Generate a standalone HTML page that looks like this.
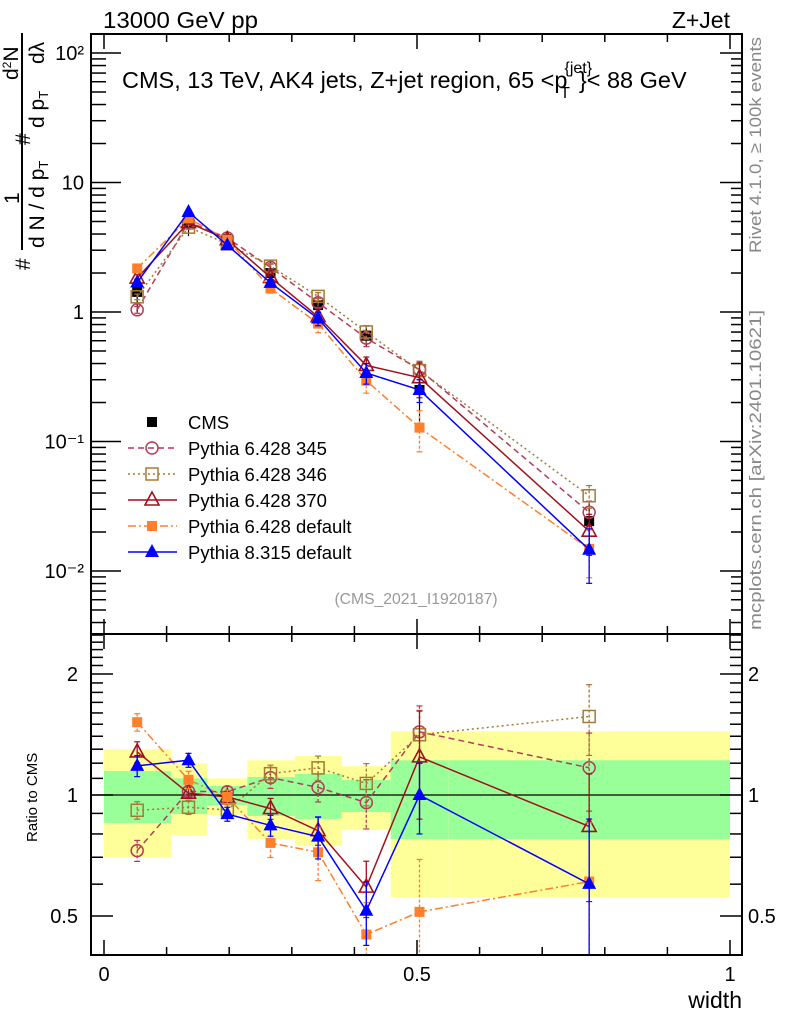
<!DOCTYPE html>
<html><head><meta charset="utf-8">
<style>
html,body{margin:0;padding:0;background:#fff;}
svg{display:block;font-family:"Liberation Sans",sans-serif;}
</style></head>
<body>
<svg id="chart" width="786" height="1024" viewBox="0 0 786 1024" xmlns="http://www.w3.org/2000/svg">
  <text x="103" y="28" font-size="23" textLength="155" lengthAdjust="spacingAndGlyphs">13000 GeV pp</text>
  <text x="730" y="28" font-size="23" text-anchor="end">Z+Jet</text>
  <text x="122" y="88" font-size="23.5">CMS, 13 TeV, AK4 jets, Z+jet region, 65 &lt;p<tspan font-size="16" dy="-15" dx="-3">{jet}</tspan><tspan font-size="16" dy="25" dx="-32">T</tspan><tspan dy="-10" dx="9">}&lt; 88 GeV</tspan></text>
  <text x="416" y="604" font-size="15.7" fill="#999" text-anchor="middle">(CMS_2021_I1920187)</text>
  <text transform="translate(761,253) rotate(-90)" font-size="17" fill="#888" textLength="216" lengthAdjust="spacingAndGlyphs">Rivet 4.1.0, ≥ 100k events</text>
  <text transform="translate(761,630) rotate(-90)" font-size="17" fill="#888" textLength="320" lengthAdjust="spacingAndGlyphs">mcplots.cern.ch [arXiv:2401.10621]</text>
  <g font-size="21">
    <line x1="22" y1="33" x2="22" y2="250" stroke="#000" stroke-width="2"/>
    <text transform="translate(30,270) rotate(-90)">#</text>
    <text transform="translate(19,204) rotate(-90)">1</text>
    <text transform="translate(44,248) rotate(-90)">d N / d p<tspan font-size="13" dy="4">T</tspan></text>
    <text transform="translate(30,145) rotate(-90)">#</text>
    <text transform="translate(18,80) rotate(-90)">d<tspan font-size="12" dy="-7">2</tspan><tspan dy="7">N</tspan></text>
    <text transform="translate(44,128) rotate(-90)">d p<tspan font-size="13" dy="4">T</tspan></text>
    <text transform="translate(44,64) rotate(-90)">dλ</text>
  </g>
  <text transform="translate(37,842) rotate(-90)" font-size="15">Ratio to CMS</text>
  <text x="742" y="1008" font-size="23" text-anchor="end">width</text>
  <g id="main"></g>
  <g id="ratio"></g>
</svg>
<script>
const binEdges = [0, 0.107, 0.165, 0.229, 0.305, 0.38, 0.458, 0.55, 1.0];
const binCenters = [0.053, 0.135, 0.197, 0.266, 0.342, 0.419, 0.504, 0.775];
const cmsValues = [1.43, 4.85, 3.66, 2.0, 1.13, 0.656, 0.25, 0.0243];
const cmsTotalUp = [1.30, 1.20, 1.10, 1.22, 1.25, 1.18, 1.44, 1.44];
const cmsTotalDown = [0.70, 0.795, 0.892, 0.777, 0.747, 0.818, 0.557, 0.557];
const cmsStatUp = [1.147, 1.10, 1.053, 1.109, 1.128, 1.09, 1.22, 1.22];
const cmsStatDown = [0.852, 0.897, 0.944, 0.887, 0.872, 0.907, 0.777, 0.777];
const p345Values = [1.04, 4.95, 3.73, 2.21, 1.18, 0.628, 0.359, 0.0284];
const p345Err = [0.06, 0.03, 0.03, 0.06, 0.08, 0.14, 0.16, 0.22];
const p346Values = [1.31, 4.52, 3.36, 2.26, 1.32, 0.701, 0.353, 0.0381];
const p346Err = [0.05, 0.04, 0.03, 0.05, 0.07, 0.12, 0.15, 0.2];
const p370Values = [1.83, 4.90, 3.62, 1.85, 0.921, 0.387, 0.311, 0.0203];
const p370Err = [0.06, 0.03, 0.03, 0.06, 0.08, 0.16, 0.3, 0.35];
const p6dValues = [2.17, 5.29, 3.62, 1.52, 0.814, 0.295, 0.128, 0.0148];
const p6dErr = [0.05, 0.05, 0.04, 0.08, 0.15, 0.2, 0.35, 0.4];
const p8Values = [1.69, 5.92, 3.28, 1.68, 0.89, 0.338, 0.25, 0.0146];
const p8Err = [0.06, 0.04, 0.04, 0.06, 0.12, 0.18, 0.2, 0.45];
const mainTickExps = [-2, -1, 0, 1, 2];
const mainTickLabels = ["10⁻²", "10⁻¹", "1", "10", "10²"];
const ratioTicks = [0.5, 1, 2];
const ratioTickLabels = ["0.5", "1", "2"];
const xTicks = [0, 0.5, 1];
const xTickLabels = ["0", "0.5", "1"];

const L = 91, R = 742, T = 34, MB = 634, RB = 955;
const xs = v => 104 + 626 * v;
const ym = v => 312 - 129.5 * Math.log10(v);
const yr = v => 795 - 121 * Math.log2(v);
const NS = "http://www.w3.org/2000/svg";
function mk(parent, tag, attrs, txt) {
  const e = document.createElementNS(NS, tag);
  for (const k in attrs) e.setAttribute(k, attrs[k]);
  if (txt !== undefined) e.textContent = txt;
  parent.appendChild(e);
  return e;
}
const main = document.getElementById('main');
const ratio = document.getElementById('ratio');
const svg = document.getElementById('chart');
const defs = mk(svg, 'defs', {});
const c1 = mk(defs, 'clipPath', {id: 'cm'}); mk(c1, 'rect', {x: L, y: T, width: R - L, height: MB - T});
const c2 = mk(defs, 'clipPath', {id: 'cr'}); mk(c2, 'rect', {x: L, y: MB, width: R - L, height: RB - MB});

const bands = mk(ratio, 'g', {'clip-path': 'url(#cr)'});
for (let i = 0; i < cmsValues.length; i++) {
  const x0 = xs(binEdges[i]), x1 = xs(binEdges[i + 1]);
  const yb = mk(bands, 'rect', {x: x0, y: yr(cmsTotalUp[i]), width: x1 - x0, height: yr(cmsTotalDown[i]) - yr(cmsTotalUp[i]), fill: '#ffff99'});
  
  
  const gb = mk(bands, 'rect', {x: x0, y: yr(cmsStatUp[i]), width: x1 - x0, height: yr(cmsStatDown[i]) - yr(cmsStatUp[i]), fill: '#99ff99'});
  
  
}
const unity = mk(ratio, 'line', {x1: L, x2: R, y1: yr(1), y2: yr(1), stroke: '#000', 'stroke-width': 1.2});



function marker(g, type, x, y, color, s) {
  s = s || 6;
  if (type === 'circle') return mk(g, 'circle', {cx: x, cy: y, r: s, fill: 'none', stroke: color, 'stroke-width': 1.5});
  if (type === 'osquare') return mk(g, 'rect', {x: x - s, y: y - s, width: 2 * s, height: 2 * s, fill: 'none', stroke: color, 'stroke-width': 1.5});
  if (type === 'fsquare') return mk(g, 'rect', {x: x - s + 1, y: y - s + 1, width: 2 * s - 2, height: 2 * s - 2, fill: color});
  if (type === 'otri') return mk(g, 'polygon', {points: `${x},${y - s - 2} ${x - s - 1},${y + s - 1} ${x + s + 1},${y + s - 1}`, fill: 'none', stroke: color, 'stroke-width': 1.6});
  if (type === 'ftri') return mk(g, 'polygon', {points: `${x},${y - s - 2} ${x - s - 1},${y + s - 1} ${x + s + 1},${y + s - 1}`, fill: color});
}
const series = [
  {name: 'Pythia 6.428 345', key: 'p345', vals: p345Values, err: p345Err, color: '#b23c5a', dash: '6,4', m: 'circle'},
  {name: 'Pythia 6.428 346', key: 'p346', vals: p346Values, err: p346Err, color: '#a57a35', dash: '2,3', m: 'osquare'},
  {name: 'Pythia 6.428 370', key: 'p370', vals: p370Values, err: p370Err, color: '#a0101e', dash: '', m: 'otri'},
  {name: 'Pythia 6.428 default', key: 'p6d', vals: p6dValues, err: p6dErr, color: '#ff7f2a', dash: '8,3,2,3', m: 'fsquare'},
  {name: 'Pythia 8.315 default', key: 'p8', vals: p8Values, err: p8Err, color: '#0000ff', dash: '', m: 'ftri'}
];
const gm = mk(main, 'g', {'clip-path': 'url(#cm)'});
const gr = mk(ratio, 'g', {'clip-path': 'url(#cr)'});

const cmsG = mk(gm, 'g', {});


for (let i = 0; i < cmsValues.length; i++) {
  const x = xs(binCenters[i]);
  mk(cmsG, 'line', {x1: x, x2: x, y1: ym(cmsValues[i] * cmsTotalUp[i]), y2: ym(cmsValues[i] * cmsTotalDown[i]), stroke: '#000', 'stroke-width': 1.2});
  const p = marker(cmsG, 'fsquare', x, ym(cmsValues[i]), '#000', 6);
  
  
}
for (const s of series) {
  for (const [g, yf, useRatio] of [[gm, ym, false], [gr, yr, true]]) {
    const sg = mk(g, 'g', {});
    
    
    const v = s.vals.map((d, i) => useRatio ? d / cmsValues[i] : d);
    const pts = v.map((d, i) => `${xs(binCenters[i])},${yf(d)}`).join(' ');
    const ln = mk(sg, 'polyline', {points: pts, fill: 'none', stroke: s.color, 'stroke-width': 1.5, 'stroke-dasharray': s.dash});
    
    
    for (let i = 0; i < v.length; i++) {
      const x = xs(binCenters[i]);
      const lo = Math.max(v[i] * (1 - s.err[i]), 1e-4);
      mk(sg, 'line', {x1: x, x2: x, y1: yf(v[i] * (1 + s.err[i])), y2: yf(lo), stroke: s.color, 'stroke-width': 1.3, 'stroke-dasharray': s.dash ? '3,2' : ''});
      mk(sg, 'line', {x1: x - 3, x2: x + 3, y1: yf(v[i] * (1 + s.err[i])), y2: yf(v[i] * (1 + s.err[i])), stroke: s.color, 'stroke-width': 1.2});
      mk(sg, 'line', {x1: x - 3, x2: x + 3, y1: yf(lo), y2: yf(lo), stroke: s.color, 'stroke-width': 1.2});
      const mkr = marker(sg, s.m, x, yf(v[i]), s.color, 6);
      
      
    }
  }
}

const fm = mk(main, 'rect', {x: L, y: T, width: R - L, height: MB - T, fill: 'none', stroke: '#000', 'stroke-width': 2});


const fr = mk(ratio, 'rect', {x: L, y: MB, width: R - L, height: RB - MB, fill: 'none', stroke: '#000', 'stroke-width': 2});



const axg = mk(svg, 'g', {stroke: '#000', 'stroke-width': 1.5});
for (let t = 0; t <= 1.0001; t += 0.1) {
  const x = xs(t), big = Math.abs(t * 2 - Math.round(t * 2)) < 1e-6;
  const len = big ? 15 : 8;
  for (const [y0, dir] of [[T, 1], [MB, -1], [MB, 1], [RB, -1]]) mk(axg, 'line', {x1: x, x2: x, y1: y0, y2: y0 + dir * len});
}
xTicks.forEach((t, i) => {
  const tl = mk(svg, 'text', {x: xs(t), y: 981, 'font-size': 20, 'text-anchor': 'middle'}, xTickLabels[i]);
  
  
});
for (let e = -3; e <= 2; e++) {
  for (let m = 1; m <= 9; m++) {
    const y = ym(m * Math.pow(10, e));
    if (y < T || y > MB) continue;
    const len = m === 1 ? 30 : 15;
    mk(axg, 'line', {x1: L, x2: L + len, y1: y, y2: y});
    mk(axg, 'line', {x1: R, x2: R - (m === 1 ? 22 : 11), y1: y, y2: y});
  }
}
mainTickExps.forEach((e, i) => {
  const y = ym(Math.pow(10, e));
  const tl = mk(svg, 'text', {x: 84, y: y + 7, 'font-size': 20, 'text-anchor': 'end'}, mainTickLabels[i]);
  
  
});
const rminor = [0.4, 0.5, 0.6, 0.7, 0.8, 0.9, 1, 1.1, 1.2, 1.3, 1.4, 1.5, 1.6, 1.7, 1.8, 1.9, 2, 2.1, 2.2, 2.3, 2.4, 2.5];
rminor.forEach(v => {
  const y = yr(v);
  if (y < MB || y > RB) return;
  const big = ratioTicks.includes(v);
  mk(axg, 'line', {x1: L, x2: L + (big ? 22 : 12), y1: y, y2: y});
  mk(axg, 'line', {x1: R, x2: R - (big ? 22 : 12), y1: y, y2: y});
});
ratioTicks.forEach((v, i) => {
  const y = yr(v);
  const a = mk(svg, 'text', {x: 78, y: y + 7, 'font-size': 20, 'text-anchor': 'end'}, ratioTickLabels[i]);
  
  
  const b = mk(svg, 'text', {x: 748, y: y + 7, 'font-size': 20}, ratioTickLabels[i]);
  
  
});

const lg = mk(svg, 'g', {});


const e0 = mk(lg, 'g', {});


marker(e0, 'fsquare', 152, 422, '#000', 6);
mk(e0, 'text', {x: 188, y: 429, 'font-size': 18.5}, 'CMS');
series.forEach((s, i) => {
  const y = 448 + 26 * i;
  const eg = mk(lg, 'g', {});
  
  
  mk(eg, 'line', {x1: 128, x2: 177, y1: y, y2: y, stroke: s.color, 'stroke-width': 1.5, 'stroke-dasharray': s.dash});
  marker(eg, s.m, 152, y, s.color, 6);
  mk(eg, 'text', {x: 188, y: y + 7, 'font-size': 18.5}, s.name);
});
</script>
</body></html>
